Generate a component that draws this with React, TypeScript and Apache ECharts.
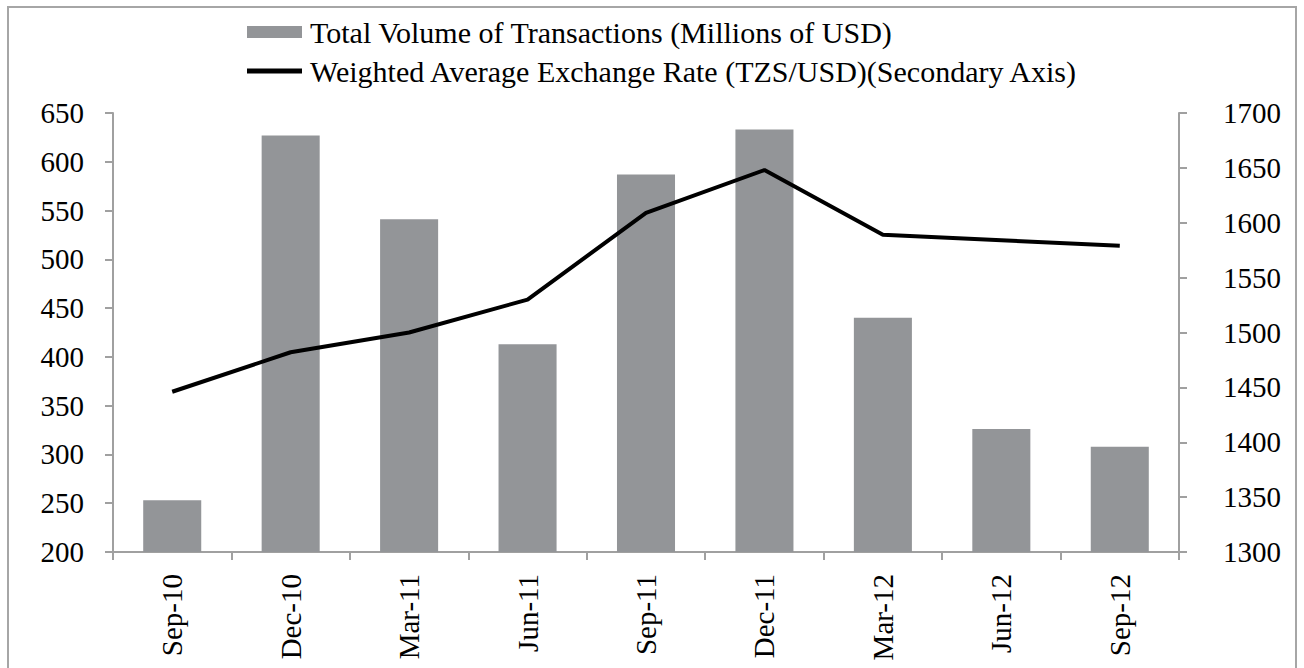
import React, { useEffect, useRef } from "react";
import * as echarts from "echarts";

const categories = ["Sep-10", "Dec-10", "Mar-11", "Jun-11", "Sep-11", "Dec-11", "Mar-12", "Jun-12", "Sep-12"];
const volumeValues = [253, 627, 541, 413, 587, 633, 440, 326, 308];
const rateValues = [1446, 1482, 1500, 1530, 1609, 1648, 1589, 1584, 1579];
const volumeName = "Total Volume of Transactions (Millions of USD)";
const rateName = "Weighted Average Exchange Rate (TZS/USD)(Secondary Axis)";

const FONT = "Liberation Serif";
const AXIS_COLOR = "#a0a0a0";
const FS = 29;

export default function App() {
  const ref = useRef<HTMLDivElement>(null);
  useEffect(() => {
    if (!ref.current) return;
    const chart = echarts.init(ref.current, undefined, { renderer: "svg" });
    chart.setOption({
      animation: false,
      backgroundColor: "#ffffff",
      textStyle: { fontFamily: FONT, color: "#000" },
      graphic: [
        {
          type: "rect",
          shape: { x: 8, y: 7, width: 1288, height: 700 },
          style: { fill: "none", stroke: "#a6a6a6", lineWidth: 2 },
          silent: true,
        },
      ],
      legend: {
        orient: "vertical",
        left: 242,
        top: 11,
        itemWidth: 55,
        itemHeight: 12,
        itemGap: 7,
        textStyle: { fontFamily: FONT, fontSize: 30, color: "#000", lineHeight: 32, padding: [0, 0, 0, 3] },
        data: [
          { name: volumeName, icon: "rect" },
          { name: rateName, icon: "path://M0 0 H55 V5 H0 Z", itemStyle: { color: "#000" } },
        ],
      },
      grid: { left: 113, right: 125, top: 113, bottom: 116, containLabel: false },
      xAxis: {
        type: "category",
        data: categories,
        boundaryGap: true,
        axisLine: { lineStyle: { color: AXIS_COLOR, width: 2 } },
        axisTick: { show: true, length: 8, inside: false, lineStyle: { color: AXIS_COLOR, width: 2 } },
        axisLabel: { rotate: 90, margin: 22, fontFamily: FONT, fontSize: FS, color: "#000" },
      },
      yAxis: [
        {
          type: "value",
          min: 200,
          max: 650,
          interval: 50,
          position: "left",
          splitLine: { show: false },
          axisLine: { show: true, lineStyle: { color: AXIS_COLOR, width: 2 } },
          axisTick: { show: true, length: 8, lineStyle: { color: AXIS_COLOR, width: 2 } },
          axisLabel: { margin: 29, fontFamily: FONT, fontSize: FS, color: "#000" },
        },
        {
          type: "value",
          min: 1300,
          max: 1700,
          interval: 50,
          position: "right",
          splitLine: { show: false },
          axisLine: { show: true, lineStyle: { color: AXIS_COLOR, width: 2 } },
          axisTick: { show: true, length: 8, lineStyle: { color: AXIS_COLOR, width: 2 } },
          axisLabel: {
            margin: 31,
            fontFamily: FONT,
            fontSize: FS,
            color: "#000",
            formatter: (v: number) => "{v|" + v + "}",
            rich: { v: { fontFamily: FONT, fontSize: FS, color: "#000", padding: [0, 0, 0, 13] } },
          },
        },
      ],
      series: [
        {
          name: volumeName,
          type: "bar",
          data: volumeValues,
          yAxisIndex: 0,
          barWidth: "49%",
          itemStyle: { color: "#939598" },
        },
        {
          name: rateName,
          type: "line",
          data: rateValues,
          yAxisIndex: 1,
          symbol: "none",
          lineStyle: { color: "#000", width: 4 },
          itemStyle: { color: "#000" },
        },
      ],
    });
    return () => chart.dispose();
  }, []);
  return (
    <div
      ref={ref}
      style={{ position: "fixed", left: 0, top: 0, width: 1304, height: 668 }}
    />
  );
}
